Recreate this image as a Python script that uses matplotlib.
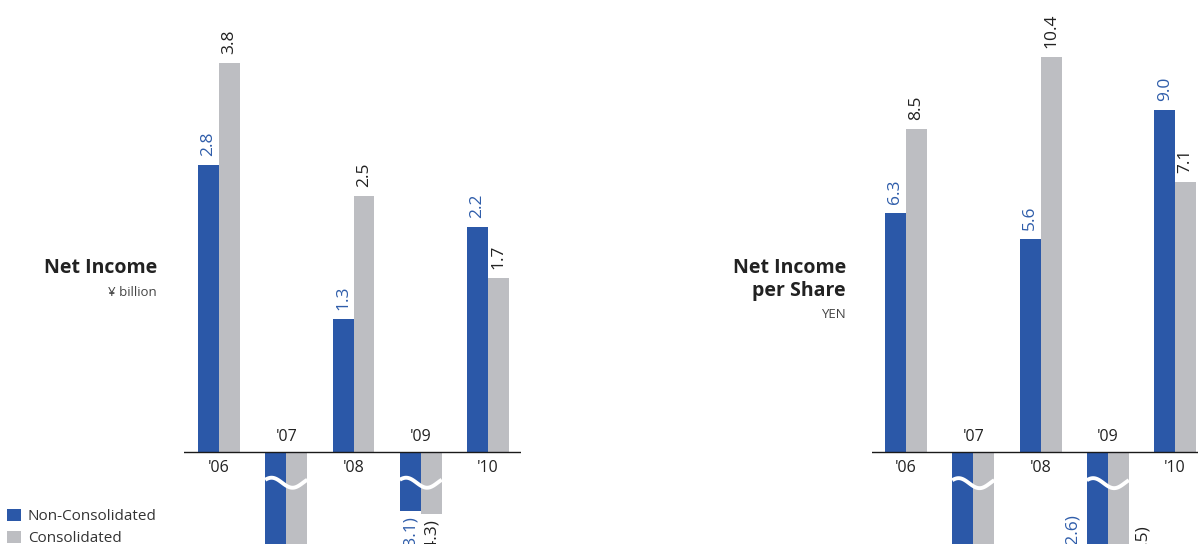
import numpy as np
import matplotlib
matplotlib.use('Agg')
import matplotlib.pyplot as plt
from matplotlib.patches import Patch

plt.rcParams['font.family'] = ['Open Sans', 'DejaVu Sans']

# ---------------- data ----------------
years = ["'06", "'07", "'08", "'09", "'10"]
ni_non = [2.8, -19.6, 1.3, -3.1, 2.2]      # Net income, non-consolidated (¥ billion)
ni_con = [3.8, -21.4, 2.5, -4.3, 1.7]      # Net income, consolidated (¥ billion)
eps_non = [6.3, -44.0, 5.6, -12.6, 9.0]    # Net income per share, non-consolidated (YEN)
eps_con = [8.5, -48.0, 10.4, -9.5, 7.1]    # Net income per share, consolidated (YEN)
series_names = ['Non-Consolidated', 'Consolidated']

BLUE = '#2B58A8'
GREY = '#BDBEC2'
BLUE_TXT = '#2F5DAA'
DARK = '#222222'

W, H = 1198, 544
fig = plt.figure(figsize=(W / 100, H / 100), dpi=100)


def make_scale(vk, uk):
    vk = np.asarray(vk, float)
    uk = np.asarray(uk, float)
    return (lambda v: np.interp(v, vk, uk)), (lambda u: np.interp(u, uk, vk))


def fmt(v):
    return f"{v:.1f}" if v >= 0 else f"({-v:.1f})"


def panel(x0px, x1px, xlim, non, con, ppu, brk, vk, uk, beside_idx=()):
    ax = fig.add_axes([x0px / W, 0, (x1px - x0px) / W, 1])
    fwd, inv = make_scale(vk, uk)
    ax.set_yscale('function', functions=(fwd, inv))
    ax.set_xlim(*xlim)
    ax.set_ylim(inv(-92 / ppu), inv(452 / ppu))
    for s in ax.spines.values():
        s.set_visible(False)
    ax.set_xticks([])
    ax.set_yticks([])
    ax.patch.set_alpha(0)

    x = np.arange(len(years))
    w = 0.312
    ax.bar(x - w / 2, non, width=w, color=BLUE, zorder=2)
    ax.bar(x + w / 2, con, width=w, color=GREY, zorder=2)
    ax.axhline(0, color='#1a1a1a', lw=1.0, zorder=4)

    # break waves on negative bars
    t = np.linspace(0, 1, 80)
    uc = fwd(brk)
    amp = 5 / ppu
    for i in range(len(years)):
        if non[i] < 0 or con[i] < 0:
            xs = i - w + t * 2 * w
            us = uc + amp * np.cos(2 * np.pi * (t - 0.15))
            ax.plot(xs, inv(us), color='white', lw=2.8, zorder=3,
                    solid_capstyle='butt')

    # year labels
    for i, yl in enumerate(years):
        off = -11.5 if non[i] >= 0 else 11
        ax.annotate(yl, xy=(i, 0), xytext=(0, off), textcoords='offset points',
                    ha='center', va='center', fontsize=11.5, color=DARK)

    # value labels
    for vals, dx, col in ((non, -w / 2, BLUE_TXT), (con, w / 2, DARK)):
        for i, v in enumerate(vals):
            if i == 1:
                continue  # off-canvas in the reference
            if v >= 0:
                ax.annotate(fmt(v), xy=(i + dx, v), xytext=(0, 6.5),
                            textcoords='offset points', rotation=90,
                            ha='center', va='bottom', fontsize=12.5, color=col)
            elif i in beside_idx:
                side = -1 if dx < 0 else 1
                yoff = -45 if dx < 0 else -53
                ax.annotate(fmt(v), xy=(i + dx, 0), xytext=(side * 17.5, yoff),
                            textcoords='offset points', rotation=90,
                            ha='center', va='top', fontsize=12.5, color=col)
            else:
                ax.annotate(fmt(v), xy=(i + dx, v), xytext=(0, -3.5),
                            textcoords='offset points', rotation=90,
                            ha='center', va='top', fontsize=12.5, color=col)
    return ax


# left panel: Net Income
ppu_l = 102.4
panel(184, 521, (-0.52, 4.49), ni_non, ni_con, ppu_l, -0.3,
      [-1000, -3.1, -0.3, 0, 1000],
      [-0.576 - 996.9 * 0.0244, -0.576, -0.3, 0, 1000])

# right panel: Net Income per Share
ppu_r = 38.0
panel(872, 1198, (-0.505, 4.34), eps_non, eps_con, ppu_r, -0.82,
      [-1000, -0.82, 0, 1000],
      [-0.82 - 999.18 * 0.2, -0.82, 0, 1000], beside_idx=(3,))

# titles
fig.text(157 / W, 1 - 268 / H, 'Net Income', ha='right', va='center',
         fontsize=14, fontweight='bold', color=DARK)
fig.text(157 / W, 1 - 292 / H, '¥ billion', ha='right', va='center',
         fontsize=9.5, color='#444444')
fig.text(846 / W, 1 - 268 / H, 'Net Income', ha='right', va='center',
         fontsize=14, fontweight='bold', color=DARK)
fig.text(846 / W, 1 - 291 / H, 'per Share', ha='right', va='center',
         fontsize=14, fontweight='bold', color=DARK)
fig.text(846 / W, 1 - 314 / H, 'YEN', ha='right', va='center',
         fontsize=9.5, color='#444444')

# legend
handles = [Patch(facecolor=BLUE, edgecolor='none'), Patch(facecolor=GREY, edgecolor='none')]
fig.legend(handles, series_names, loc='lower left', bbox_to_anchor=(0.0035, -0.010),
           frameon=False, fontsize=11, handlelength=0.9, handleheight=0.9,
           handletextpad=0.45, labelspacing=0.42, borderpad=0.2,
           borderaxespad=0.0, labelcolor='#333333')

fig.savefig('out.png', dpi=100)
